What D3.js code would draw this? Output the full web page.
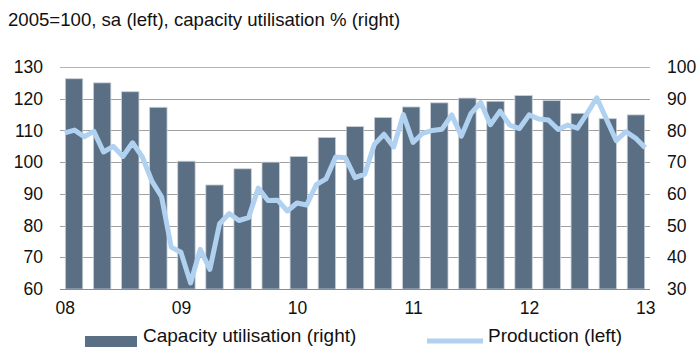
<!DOCTYPE html>
<html>
<head>
<meta charset="utf-8">
<script src="https://cdn.jsdelivr.net/npm/d3@7"></script>
<style>
  html, body { margin: 0; padding: 0; background: #fff; }
  svg { display: block; font-family: "Liberation Sans", Arial, sans-serif; }
</style>
</head>
<body>
<svg id="chart" width="697" height="347"></svg>
<script>
// Quarterly capacity utilisation, % (right axis), 2008Q1 - 2013Q1
const quarters = d3.timeMonth.every(3).range(new Date(2008, 0, 1), new Date(2013, 1, 1));
const capacity = [96.3, 95.0, 92.2, 87.3, 70.3, 62.8, 67.9, 70.0, 71.8, 77.8, 81.2,
                  84.1, 87.4, 88.7, 90.2, 89.2, 91.0, 89.4, 85.4, 83.7, 84.9];

// Monthly industrial production, 2005=100, sa (left axis), Jan 2008 - Jan 2013
const months = d3.timeMonth.range(new Date(2008, 0, 1), new Date(2013, 1, 1));
const production = [
  109.2, 110.1, 108.0, 109.7, 103.2, 105.0, 101.8, 106.1, 101.7, 94.0, 89.1, 73.2,
  71.6, 61.9, 72.5, 66.2, 80.6, 83.8, 81.6, 82.5, 91.8, 87.9, 88.0, 84.6,
  87.1, 86.5, 92.9, 94.7, 101.6, 101.4, 95.1, 96.2, 105.6, 108.8, 104.8, 115.0,
  106.2, 109.1, 110.0, 110.4, 114.9, 108.2, 115.4, 118.8, 111.8, 116.1, 111.7, 110.6,
  114.9, 113.6, 113.3, 110.3, 111.7, 110.7, 115.4, 120.3, 113.5, 106.8, 109.6, 107.6,
  104.5
];

const leftTicks = [60, 70, 80, 90, 100, 110, 120, 130];
const rightTicks = [30, 40, 50, 60, 70, 80, 90, 100];
const yearLabels = ["08", "09", "10", "11", "12", "13"];

const title = "2005=100, sa (left), capacity utilisation % (right)";
const legendItems = ["Capacity utilisation (right)", "Production (left)"];

const barColor = "#5b6f84";
const lineColor = "#b1d1f1";
const textColor = "#111";
const fontFamily = "Liberation Sans, Arial, sans-serif";

const svg = d3.select("#chart");
const plot = { left: 60, right: 650, top: 67, bottom: 289 };

const xQ = d3.scaleBand()
  .domain(quarters.map((d, i) => i))
  .range([plot.left, plot.right])
  .paddingInner(0.38)
  .paddingOuter(0.19);

const xM = d3.scalePoint()
  .domain(months.map((d, i) => i))
  .range([plot.left, plot.right])
  .padding(0.5);

const yL = d3.scaleLinear().domain([60, 130]).range([plot.bottom, plot.top]);
const yR = d3.scaleLinear().domain([30, 100]).range([plot.bottom, plot.top]);

// title
svg.append("text")
  .attr("x", 8).attr("y", 26)
  .attr("font-size", 18.6)
  .attr("fill", textColor)
  .text(title);

// horizontal gridlines
svg.append("g")
  .selectAll("line")
  .data(leftTicks.slice(1))
  .join("line")
  .attr("x1", plot.left).attr("x2", plot.right)
  .attr("y1", d => Math.round(yL(d)) + 0.5)
  .attr("y2", d => Math.round(yL(d)) + 0.5)
  .attr("stroke", d => d === 130 ? "#b4b4b4" : "#a0a0a0")
  .attr("stroke-width", 1);

// bars
svg.append("g")
  .selectAll("rect")
  .data(capacity)
  .join("rect")
  .attr("x", (d, i) => xQ(i))
  .attr("width", xQ.bandwidth())
  .attr("y", d => yR(d))
  .attr("height", d => yR(30) - yR(d))
  .attr("fill", barColor)
  .attr("stroke", "#c9d0d8")
  .attr("stroke-width", 0.8);

// bottom axis line
svg.append("line")
  .attr("x1", plot.left).attr("x2", plot.right)
  .attr("y1", plot.bottom + 0.5).attr("y2", plot.bottom + 0.5)
  .attr("stroke", "#8c8c8c");

// production line
const line = d3.line()
  .x((d, i) => xM(i))
  .y(d => yL(d));

svg.append("path")
  .datum(production)
  .attr("d", line)
  .attr("fill", "none")
  .attr("stroke", lineColor)
  .attr("stroke-width", 5)
  .attr("stroke-linejoin", "round")
  .attr("stroke-linecap", "butt");

function styleTicks(g) {
  g.select(".domain").remove();
  g.selectAll("text")
    .attr("font-size", 17.5)
    .attr("fill", textColor)
    .attr("font-family", fontFamily);
}

// left axis
svg.append("g")
  .attr("transform", `translate(${plot.left},0)`)
  .call(d3.axisLeft(yL).tickValues(leftTicks).tickSize(0).tickPadding(17))
  .call(styleTicks);

// right axis
svg.append("g")
  .attr("transform", `translate(${plot.right},0)`)
  .call(d3.axisRight(yR).tickValues(rightTicks).tickSize(0).tickPadding(17))
  .call(styleTicks);

// year labels on the monthly axis
const yearIdx = [0, 12, 24, 36, 48, 60];
svg.append("g")
  .attr("transform", `translate(0,${plot.bottom})`)
  .call(d3.axisBottom(xM).tickValues(yearIdx)
    .tickFormat((d, i) => yearLabels[i]).tickSize(0).tickPadding(13))
  .call(styleTicks);

// legend
const lg = svg.append("g");
lg.append("rect")
  .attr("x", 85).attr("y", 336).attr("width", 52).attr("height", 11)
  .attr("fill", barColor);
lg.append("text")
  .attr("x", 143).attr("y", 342)
  .attr("font-size", 19)
  .attr("fill", textColor)
  .text(legendItems[0]);
lg.append("line")
  .attr("x1", 427).attr("x2", 483).attr("y1", 341).attr("y2", 341)
  .attr("stroke", lineColor).attr("stroke-width", 5);
lg.append("text")
  .attr("x", 488).attr("y", 342)
  .attr("font-size", 19)
  .attr("fill", textColor)
  .text(legendItems[1]);
</script>
</body>
</html>
